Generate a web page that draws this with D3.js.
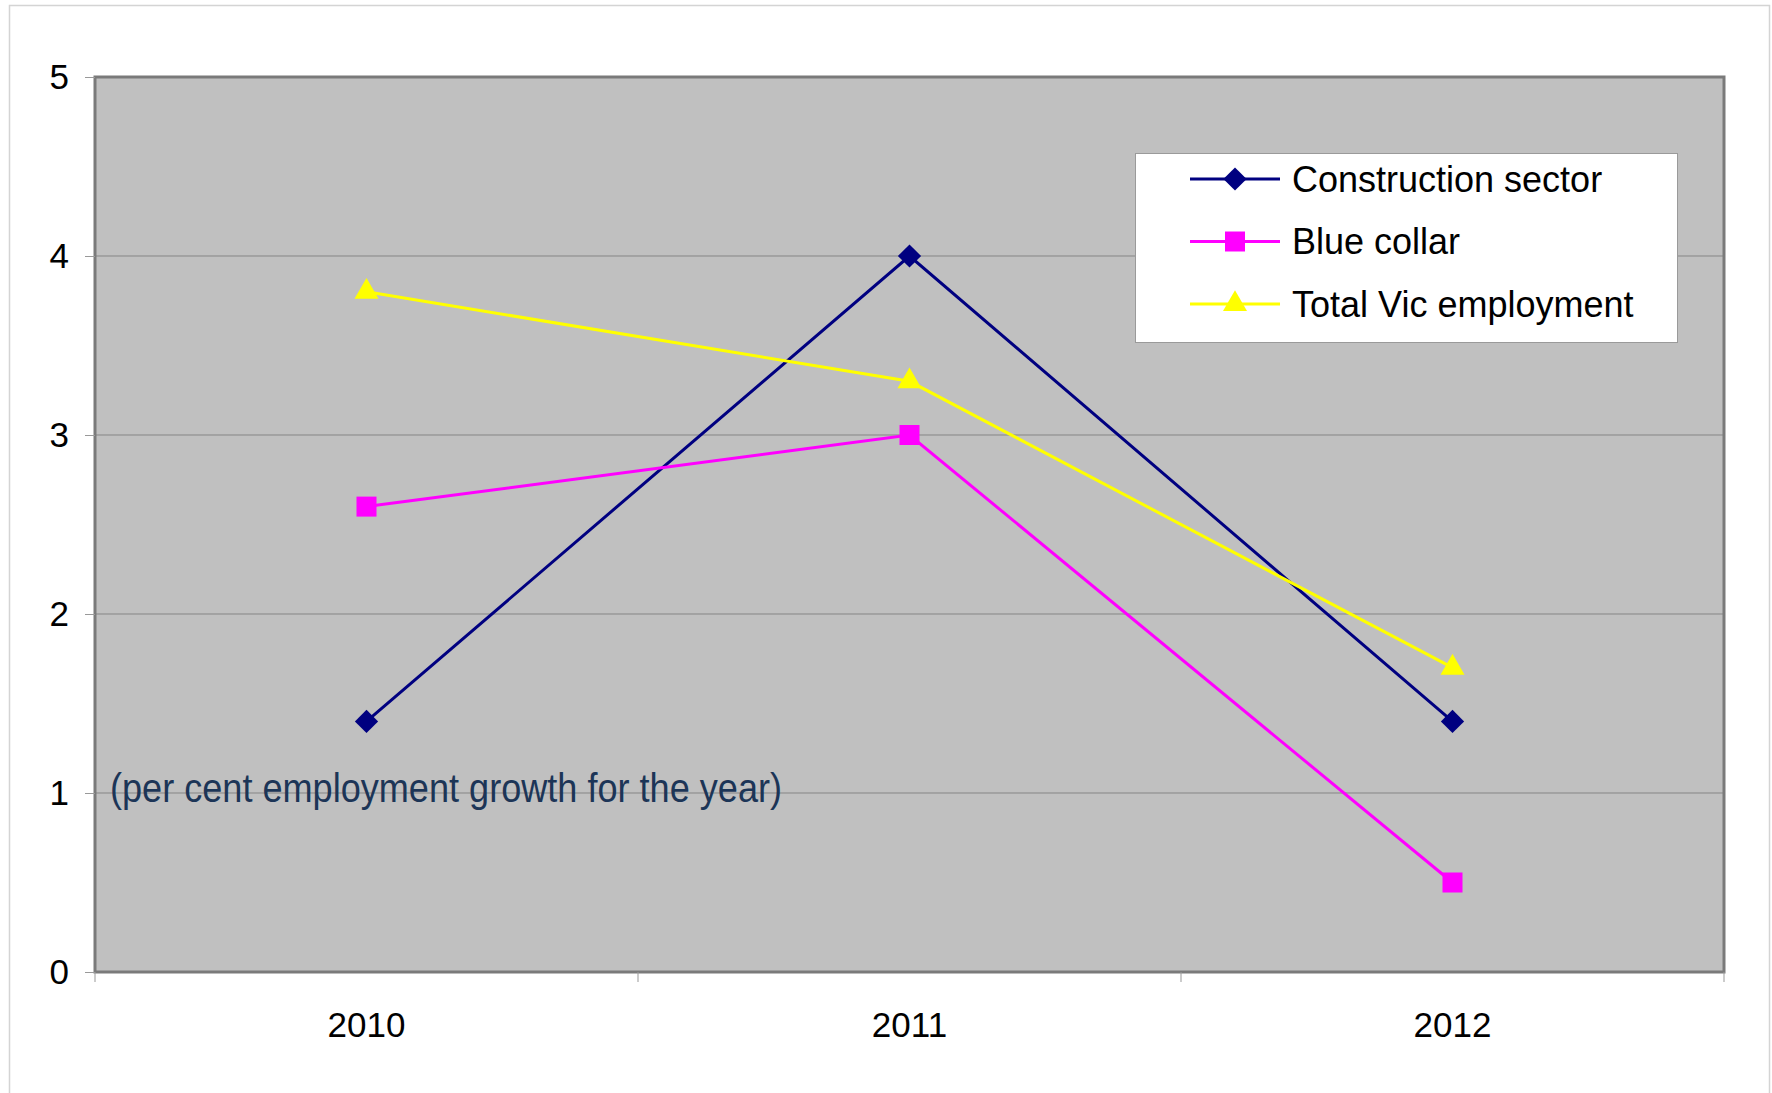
<!DOCTYPE html>
<html>
<head>
<meta charset="utf-8">
<script src="https://cdn.jsdelivr.net/npm/d3@7/dist/d3.min.js"></script>
<style>
  body { margin: 0; background: #fff; }
  svg { display: block; font-family: "Liberation Sans", Arial, sans-serif; }
</style>
</head>
<body>
<div id="chart"></div>
<script>
// data
const years = ['2010', '2011', '2012'];
const construction = [1.4, 4.0, 1.4];
const blueCollar = [2.6, 3.0, 0.5];
const totalVic = [3.8, 3.3, 1.7];
const yTicks = [0, 1, 2, 3, 4, 5];
const seriesNames = ['Construction sector', 'Blue collar', 'Total Vic employment'];
const note = '(per cent employment growth for the year)';

const W = 1772, H = 1093;
const plot = { left: 95, top: 77, right: 1724, bottom: 972 };

const series = [
  { name: seriesNames[0], values: construction, color: '#000080', marker: 'diamond' },
  { name: seriesNames[1], values: blueCollar, color: '#ff00ff', marker: 'square' },
  { name: seriesNames[2], values: totalVic, color: '#ffff00', marker: 'triangle' }
];

const svg = d3.select('#chart').append('svg')
  .attr('width', W)
  .attr('height', H);

// outer chart border
svg.append('rect')
  .attr('x', 9.5).attr('y', 5.5)
  .attr('width', 1760).attr('height', 1100)
  .attr('fill', '#fff')
  .attr('stroke', '#d4d4d4')
  .attr('stroke-width', 1.5);

const x = d3.scaleBand()
  .domain(years)
  .range([plot.left, plot.right]);

const y = d3.scaleLinear()
  .domain([0, 5])
  .range([plot.bottom, plot.top]);

// plot area
svg.append('rect')
  .attr('x', plot.left).attr('y', plot.top)
  .attr('width', plot.right - plot.left)
  .attr('height', plot.bottom - plot.top)
  .attr('fill', '#c0c0c0');

// gridlines
svg.append('g')
  .selectAll('line')
  .data(yTicks.filter(d => d > 0 && d < 5))
  .enter()
  .append('line')
  .attr('x1', plot.left).attr('x2', plot.right)
  .attr('y1', d => y(d)).attr('y2', d => y(d))
  .attr('stroke', '#858585')
  .attr('stroke-width', 1);

svg.append('rect')
  .attr('x', plot.left).attr('y', plot.top)
  .attr('width', plot.right - plot.left)
  .attr('height', plot.bottom - plot.top)
  .attr('fill', 'none')
  .attr('stroke', '#7a7a7a')
  .attr('stroke-width', 3);

// y axis
const yAxis = svg.append('g')
  .attr('transform', `translate(${plot.left},0)`)
  .call(d3.axisLeft(y).tickValues(yTicks).tickSize(10).tickPadding(16).tickFormat(d3.format('d')));
yAxis.select('.domain').remove();
yAxis.selectAll('line').attr('stroke', '#999');
yAxis.selectAll('text')
  .attr('font-size', 35)
  .attr('fill', '#000')
  .attr('font-family', '"Liberation Sans", Arial, sans-serif');

// x axis
const boundaries = [plot.left].concat(years.map(d => x(d) + x.bandwidth()));
svg.append('g')
  .selectAll('line')
  .data(boundaries)
  .enter()
  .append('line')
  .attr('x1', d => d).attr('x2', d => d)
  .attr('y1', plot.bottom).attr('y2', plot.bottom + 10)
  .attr('stroke', '#999');

svg.append('g')
  .selectAll('text')
  .data(years)
  .enter()
  .append('text')
  .attr('x', d => x(d) + x.bandwidth() / 2)
  .attr('y', 1037)
  .attr('text-anchor', 'middle')
  .attr('font-size', 35)
  .text(d => d);

// annotation
svg.append('text')
  .attr('x', 110)
  .attr('y', 802)
  .attr('font-size', 40)
  .attr('fill', '#1c3557')
  .attr('textLength', 672)
  .attr('lengthAdjust', 'spacingAndGlyphs')
  .text(note);

// markers
function markerPath(type) {
  if (type === 'square') return d3.symbol().type(d3.symbolSquare).size(400)();
  if (type === 'triangle') return d3.symbol().type(d3.symbolTriangle).size(250)();
  return d3.symbol().type(d3.symbolSquare).size(270)();
}
function markerRotate(type) {
  return type === 'diamond' ? ' rotate(45)' : '';
}

const line = d3.line()
  .x((d, i) => x(years[i]) + x.bandwidth() / 2)
  .y(d => y(d));

series.forEach(s => {
  svg.append('path')
    .datum(s.values)
    .attr('d', line)
    .attr('fill', 'none')
    .attr('stroke', s.color)
    .attr('stroke-width', 3);
});

series.forEach(s => {
  svg.append('g')
    .selectAll('path')
    .data(s.values)
    .enter()
    .append('path')
    .attr('d', markerPath(s.marker))
    .attr('transform', (d, i) => `translate(${x(years[i]) + x.bandwidth() / 2},${y(d)})${markerRotate(s.marker)}`)
    .attr('fill', s.color);
});

// legend
const legend = svg.append('g');
legend.append('rect')
  .attr('x', 1135.5).attr('y', 153.5)
  .attr('width', 542).attr('height', 189)
  .attr('fill', '#fff')
  .attr('stroke', '#9a9a9a')
  .attr('stroke-width', 1);

const rowY = d3.scalePoint()
  .domain(seriesNames)
  .range([179, 304]);

series.forEach(s => {
  const g = legend.append('g')
    .attr('transform', `translate(0,${rowY(s.name)})`);
  g.append('line')
    .attr('x1', 1190).attr('x2', 1280)
    .attr('y1', 0).attr('y2', 0)
    .attr('stroke', s.color)
    .attr('stroke-width', 3);
  g.append('path')
    .attr('d', markerPath(s.marker))
    .attr('transform', `translate(1235,0)${markerRotate(s.marker)}`)
    .attr('fill', s.color);
  g.append('text')
    .attr('x', 1292)
    .attr('y', 0)
    .attr('dy', '0.35em')
    .attr('font-size', 36)
    .attr('fill', '#000')
    .text(s.name);
});
</script>
</body>
</html>
